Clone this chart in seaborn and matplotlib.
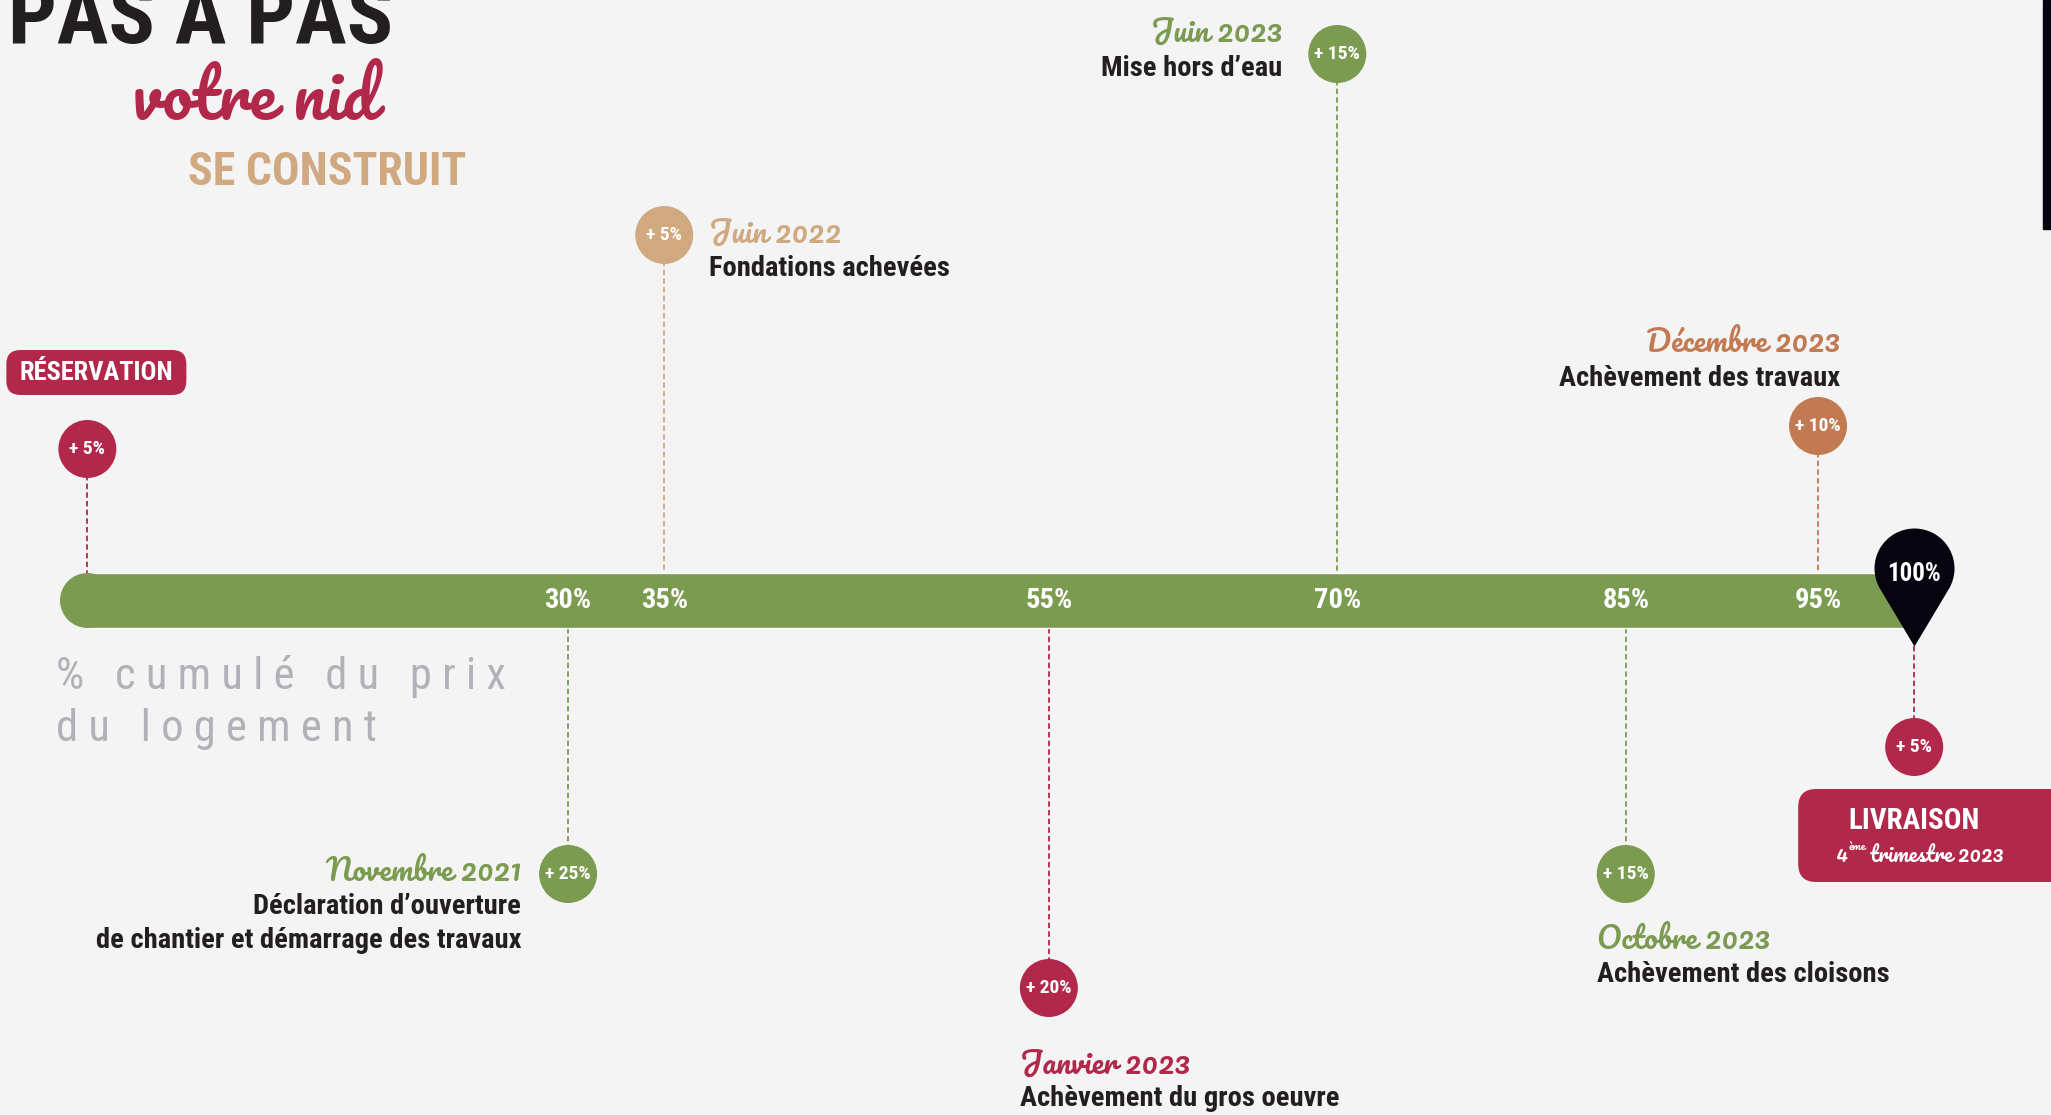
import numpy as np
import pandas as pd
import matplotlib
matplotlib.use("Agg")
import matplotlib.pyplot as plt
import seaborn as sns
from matplotlib.path import Path
from matplotlib.patches import FancyBboxPatch, Rectangle
from matplotlib.transforms import IdentityTransform
from matplotlib import font_manager as fm

# ---------------- data ----------------
steps = ["Réservation", "Novembre 2021", "Juin 2022", "Janvier 2023",
         "Juin 2023", "Octobre 2023", "Décembre 2023", "Livraison"]
increments = [5, 25, 5, 20, 15, 15, 10, 5]
cumulative = [5, 30, 35, 55, 70, 85, 95, 100]
dates = ["", "Novembre 2021", "Juin 2022", "Janvier 2023",
         "Juin 2023", "Octobre 2023", "Décembre 2023", ""]
descriptions = ["", "Déclaration d’ouverture\nde chantier et démarrage des travaux",
                "Fondations achevées", "Achèvement du gros oeuvre", "Mise hors d’eau",
                "Achèvement des cloisons", "Achèvement des travaux", ""]
bar_labels = ["30%", "35%", "55%", "70%", "85%", "95%"]
bar_label_values = [30, 35, 55, 70, 85, 95]
final_label = "100%"

# ---------------- style ----------------
BG = "#F4F4F4"
CRIMSON = "#B2284B"
GREEN = "#7B9B51"
TAN = "#D0A981"
COPPER = "#C27A52"
INK = "#231F20"
PIN = "#05040F"
GRAY = "#B1B2B7"
colors = [CRIMSON, GREEN, TAN, CRIMSON, GREEN, GREEN, COPPER, CRIMSON]

# layout (pixels from top)
circle_y = [449, 874, 235, 988, 54, 874, 426, 747]
label_dx = [0, -47, 45, -29, -55, -29, 22, 0]
label_ha = ["", "right", "left", "left", "right", "left", "right", ""]
date_y = [0, 874, 236, 1067, 35, 942, 345, 0]
desc_y = [0, 906, 268, 1099, 68, 974, 378, 0]
BAR_Y, BAR_H = 600, 55
PIN_Y, PIN_TIP = 568, 646
CIRCLE_D = 58

sns.set_theme(style="white")
names = {f.name for f in fm.fontManager.ttflist}


def pick(cands, default):
    for c in cands:
        if c in names:
            return c
    return default


COND = pick(["Roboto Condensed", "Liberation Sans Narrow", "DejaVu Sans"], "DejaVu Sans")
SCRIPT = pick(["Pacifico", "Lobster", "Dancing Script", "Kaushan Script", "Satisfy",
               "Liberation Serif"], "DejaVu Serif")
LIGHT = pick(["Roboto Condensed", "Roboto", "Lato", "DejaVu Sans"], "DejaVu Sans")
plt.rcParams["font.family"] = [COND, "DejaVu Sans"]

W, H = 2051, 1115
PT = 0.72
fig = plt.figure(figsize=(W / 100, H / 100), dpi=100, facecolor=BG)
ax = fig.add_axes([0, 0, 1, 1])
ax.set_facecolor(BG)
PX_PER_PCT, PX_OFF = 19.23, -8.8
XLIM = (-PX_OFF / PX_PER_PCT, (W - PX_OFF) / PX_PER_PCT)

condkw = dict(family=[COND, "DejaVu Sans"], fontstretch="condensed", fontweight="bold")
scriptkw = dict(family=[SCRIPT, "DejaVu Serif"])

# progress bar
ax.barh(y=BAR_Y, width=cumulative[-1] - cumulative[0], left=cumulative[0],
        height=BAR_H, color=GREEN, zorder=2)
ax.scatter([cumulative[0]], [BAR_Y], s=(BAR_H * PT) ** 2, color=GREEN,
           linewidths=0, zorder=2)

# stems
for i, (x, cy, c) in enumerate(zip(cumulative, circle_y, colors)):
    if i == len(steps) - 1:
        y0, y1 = PIN_TIP, cy
    elif cy < BAR_Y:
        y0, y1 = cy, BAR_Y - BAR_H / 2
    else:
        y0, y1 = BAR_Y + BAR_H / 2, cy
    ax.vlines(x, y0, y1, colors=c, linewidth=1.3, linestyles=(0, (3, 1.8)), zorder=1)

# circles
df = pd.DataFrame({"step": steps, "pct": cumulative, "cy": circle_y})
sns.scatterplot(data=df, x="pct", y="cy", hue="step", palette=dict(zip(steps, colors)),
                s=(CIRCLE_D * PT) ** 2, linewidth=0, legend=False, ax=ax, zorder=5)
ax.set_xlim(*XLIM)
ax.set_ylim(H, 0)
ax.axis("off")
for x, cy, inc in zip(cumulative, circle_y, increments):
    ax.text(x, cy, f"+ {inc}%", color="white", fontsize=14, ha="center",
            va="center", zorder=6, **condkw)

# bar labels
for v, lbl in zip(bar_label_values, bar_labels):
    ax.text(v, BAR_Y + 1, lbl, color="white", fontsize=20.5, ha="center", va="center",
            zorder=3, **condkw)

# pin marker
arc = Path.arc(-31, 209)
tip = PIN_TIP - PIN_Y
r = 40.0
verts = np.vstack([arc.vertices, [[0, -tip / r]], [arc.vertices[0]]])
codes = np.concatenate([arc.codes, [Path.LINETO, Path.CLOSEPOLY]])
pin_path = Path(verts, codes)
ms = 2 * tip * PT
ax.scatter([cumulative[-1]], [PIN_Y], marker=pin_path, s=ms ** 2, color=PIN,
           linewidths=0, zorder=6)
ax.text(cumulative[-1], PIN_Y + 6, final_label, color="white", fontsize=18,
        ha="center", va="center", zorder=7, **condkw)

# milestone texts
for i in range(1, len(steps) - 1):
    x = cumulative[i]
    ax.annotate(dates[i], (x, date_y[i]), xytext=(label_dx[i] * PT, 0),
                textcoords="offset points", ha=label_ha[i], va="center",
                color=colors[i], fontsize=21.5, **scriptkw)
    for k, line in enumerate(descriptions[i].split("\n")):
        ax.annotate(line, (x, desc_y[i] + 35 * k), xytext=(label_dx[i] * PT, 0),
                    textcoords="offset points", ha=label_ha[i], va="center",
                    color=INK, fontsize=20.5, **condkw)

ID = IdentityTransform()


def ptext(px, py, s, **kw):
    return ax.text(px, H - py, s, transform=ID, **kw)


def pbox(x0, y0, x1, y1, rad, color):
    ax.add_patch(FancyBboxPatch((x0, H - y1), x1 - x0, y1 - y0,
                                boxstyle=f"round,pad=0,rounding_size={rad}",
                                transform=ID, fc=color, ec="none", zorder=4))


# reservation box
cx0 = ax.transData.transform((cumulative[0], 0))[0]
pbox(cx0 - 81, 350, cx0 + 99, 395, 14, CRIMSON)
ptext(cx0 + 9, 373, "RÉSERVATION", color="white", fontsize=19, ha="center",
      va="center", zorder=5, **condkw)

# livraison box
cx1 = ax.transData.transform((cumulative[-1], 0))[0]
pbox(cx1 - 116, 789, W + 30, 882, 18, CRIMSON)
ptext(cx1, 821, "LIVRAISON", color="white", fontsize=21, ha="center", va="center",
      zorder=5, **condkw)
ptext(cx1 - 66, 862, "4", color="white", fontsize=15, ha="right", va="baseline",
      zorder=5, **scriptkw)
ptext(cx1 - 66, 850, "ème", color="white", fontsize=8, ha="left", va="baseline",
      zorder=5, **scriptkw)
ptext(cx1 - 44, 862, "trimestre 2023", color="white", fontsize=15, ha="left",
      va="baseline", zorder=5, **scriptkw)

# titles
ptext(8, 43, "PAS À PAS", color=INK, fontsize=62, ha="left", va="baseline", **condkw)
ptext(132, 120, "votre nid", color=CRIMSON, fontsize=48, ha="left", va="baseline",
      **scriptkw)
ptext(188, 185, "SE CONSTRUIT", color=TAN, fontsize=33, ha="left", va="baseline",
      **condkw)


def spaced(s):
    return " ".join(s)


lightkw = dict(family=[LIGHT, "DejaVu Sans"], fontweight="normal", fontstretch="condensed")
ptext(56, 676, spaced("% cumulé du prix"), color=GRAY, fontsize=32, ha="left",
      va="center", **lightkw)
ptext(56, 729, spaced("du logement"), color=GRAY, fontsize=32, ha="left",
      va="center", **lightkw)

# right edge dark strip
ax.add_patch(Rectangle((2043, H - 229), 12, 229, transform=ID, color=PIN, zorder=3))

fig.savefig("out.png", dpi=100, facecolor=BG)
